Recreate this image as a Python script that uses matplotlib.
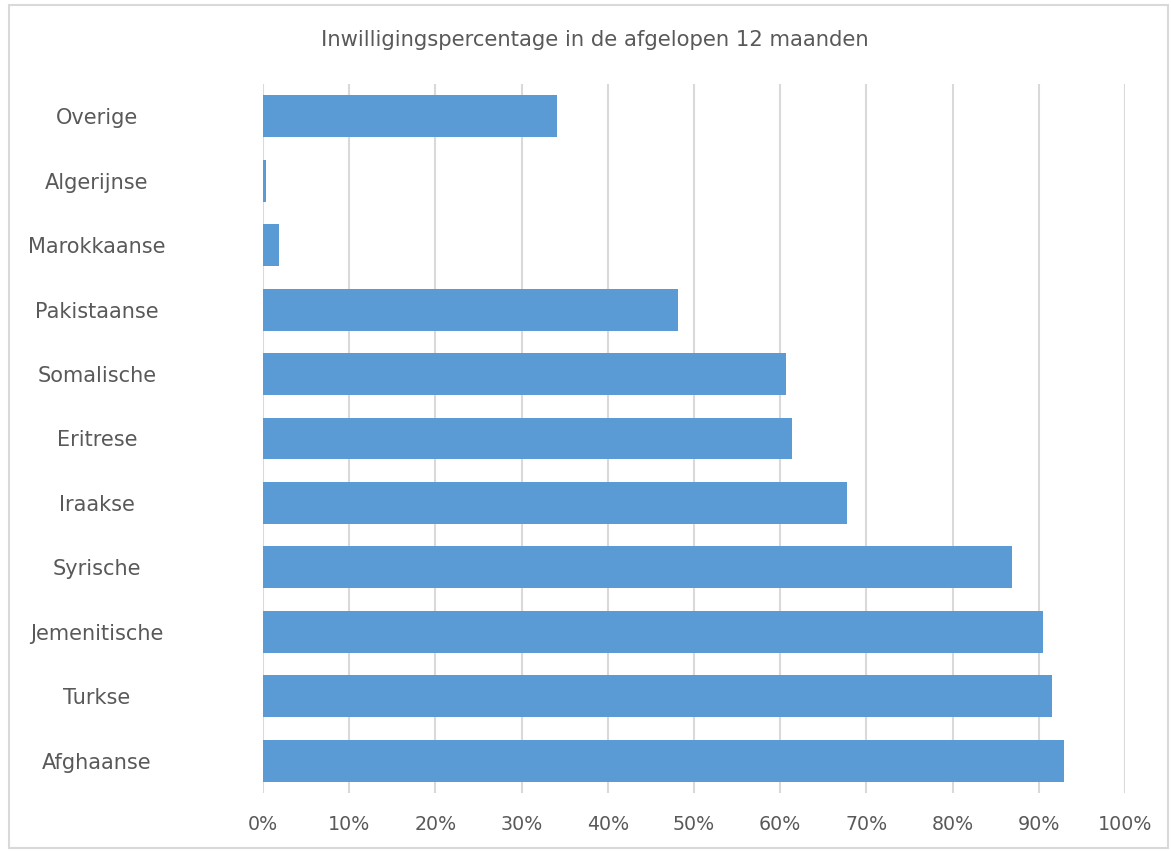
import matplotlib.pyplot as plt
from matplotlib.patches import Rectangle
from matplotlib.ticker import PercentFormatter

categories = ["Afghaanse", "Turkse", "Jemenitische", "Syrische", "Iraakse", "Eritrese",
              "Somalische", "Pakistaanse", "Marokkaanse", "Algerijnse", "Overige"]
values = [92.9, 91.5, 90.5, 86.9, 67.7, 61.4, 60.7, 48.1, 1.9, 0.3, 34.1]
xticks = [0, 10, 20, 30, 40, 50, 60, 70, 80, 90, 100]
title = "Inwilligingspercentage in de afgelopen 12 maanden"

text_col = "#595959"
bar_col = "#5B9BD5"
grid_col = "#D9D9D9"

plt.rcParams["font.family"] = ["DejaVu Sans"]

fig = plt.figure(figsize=(11.71, 8.51), dpi=100)
ax = fig.add_axes([263 / 1171, 1 - 793 / 851, (1125 - 263) / 1171, (793 - 84) / 851])

ypos = list(range(len(categories)))
ax.barh(ypos, values, height=0.65, color=bar_col, zorder=2)

ax.set_xlim(0, 100)
ax.set_ylim(-0.5, len(categories) - 0.5)
ax.set_xticks(xticks)
ax.xaxis.set_major_formatter(PercentFormatter(decimals=0))
ax.set_yticks(ypos)
ax.set_yticklabels(categories, ha="center")
ax.tick_params(axis="y", length=0, pad=119.5, labelsize=15, labelcolor=text_col)
ax.tick_params(axis="x", length=0, pad=16, labelsize=13.7, labelcolor=text_col)
ax.grid(axis="x", color=grid_col, linewidth=1.5, zorder=0)
for s in ax.spines.values():
    s.set_visible(False)

fig.text(595 / 1171, 1 - 40 / 851, title, ha="center", va="center",
         fontsize=15.2, color=text_col)

# light border around the chart area
fig.patches.append(Rectangle((9 / 1171, 3 / 851), 1159 / 1171, 843 / 851,
                             transform=fig.transFigure, fill=False,
                             edgecolor="#D9D9D9", linewidth=1.5))

fig.savefig("out.png", dpi=100)
